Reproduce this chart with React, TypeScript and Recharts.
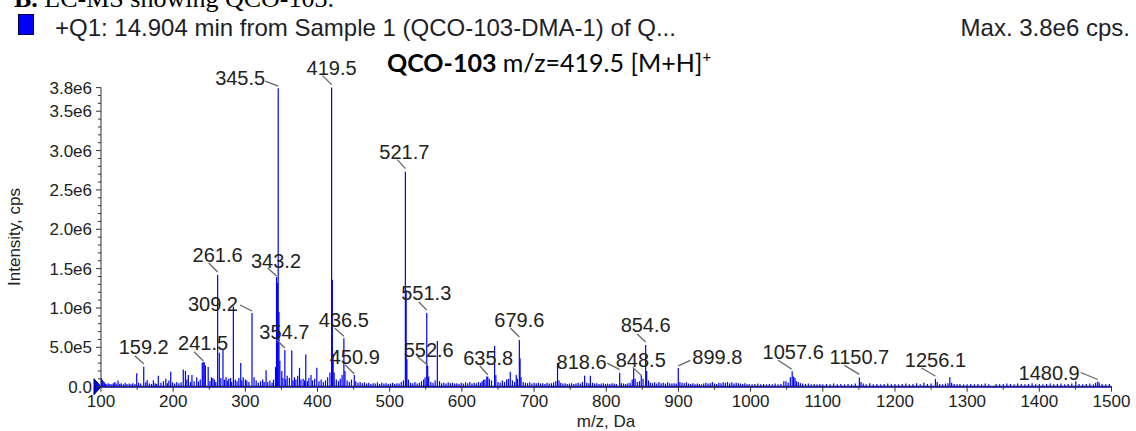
import React from 'react';
import { ComposedChart, Scatter, ErrorBar, XAxis, YAxis, ReferenceLine, ReferenceDot } from 'recharts';

const W = 1136;
const H = 431;
const SANS = '"Liberation Sans", Arial, sans-serif';

// intensities in kcps
const labelledPeaks: [number, number][] = [
  [159.2, 254], [241.5, 318], [261.6, 1419], [309.2, 936], [343.2, 1394], [345.5, 3792],
  [354.7, 466], [419.5, 3800], [436.5, 615], [450.9, 149], [521.7, 2732], [551.3, 936],
  [552.6, 263], [635.8, 127], [679.6, 593], [818.6, 178], [848.5, 144], [854.6, 530],
  [899.8, 239], [1057.6, 196], [1150.7, 118], [1256.1, 98], [1480.9, 66],
];

const strongPeaks: [number, number][] = [
  [149.5, 170], [179.4, 140], [196.6, 190], [214, 220], [217, 200], [221, 150], [226, 150],
  [232.6, 120], [240.3, 300], [243, 310], [244.6, 270], [248.5, 250], [255, 110], [263.9, 430],
  [269, 470], [273.2, 120], [277, 100], [283.4, 1020], [293.6, 300], [297, 120], [300, 90],
  [328.7, 210], [341.8, 250], [344.4, 1320], [346.6, 950], [347.8, 330], [350.5, 200], [358, 140],
  [364.3, 460], [368, 120], [375, 240], [380, 100], [383.7, 410], [388, 110], [391, 150],
  [399, 240], [414, 120], [417.2, 180], [420.5, 1360], [421.6, 420], [423, 180], [434, 150],
  [438, 200], [522.8, 1230], [523.8, 350], [549, 120], [554, 130], [566, 580], [630, 90],
  [634.5, 130], [645.3, 520], [647, 150], [667, 190], [675.3, 150], [680.6, 360], [732.5, 300],
  [770, 140], [778, 140], [838, 230], [840, 100], [856, 200], [1055, 120], [1059.5, 130],
  [1061.5, 110], [1276, 120], [1450.5, 70],
];

const noiseLow: [number, number][] = [
  [100.6, 110], [101.8, 85], [103, 70], [104.5, 55], [106, 40], [108, 30], [110, 45], [112.5, 35],
  [115, 30], [117, 45], [119, 60], [121, 40], [123.6, 80], [126, 35], [128, 45], [131, 30],
  [133.5, 50], [136, 35], [139, 40], [141.5, 30], [144, 45], [147, 35], [152, 50], [155, 40],
  [162, 55], [164, 85], [167, 40], [170, 35], [172.6, 80], [175, 45], [177, 35], [183, 50],
  [186.5, 70], [189.8, 100], [192, 45], [194, 80], [199, 55], [202, 40], [205, 60], [208, 45],
  [211, 55], [219, 90], [224, 60], [229, 70], [235, 65], [237.5, 90], [251, 70], [253, 120],
  [257, 90], [259, 60], [266, 110], [271, 90], [275, 80], [279.5, 110], [281, 60], [286, 90],
  [288.5, 70], [291, 110], [295, 80], [302, 80], [305, 60], [312, 120], [315, 80], [318, 50],
  [321, 70], [324, 90], [326, 60], [331, 60], [334, 80], [337, 50], [339, 90], [352, 110],
  [356, 90], [361, 110], [366, 80], [370, 90], [372.5, 140], [377, 90], [382, 80], [386, 70],
  [393, 80], [396, 100], [402, 70], [405, 90], [408, 60], [411, 80], [426, 90], [429, 70],
  [431.5, 100], [441, 80], [444, 60], [447, 90], [453, 70], [456, 50], [459, 60], [462, 45],
  [465, 55], [468, 40], [471, 50], [474, 35], [477, 45], [480, 40], [483, 55], [486, 35],
  [489, 50], [492, 40], [495, 45], [498, 35],
];

const noiseMid: [number, number][] = [
  [501, 40], [504, 50], [507, 35], [510, 45], [513, 40], [516, 60], [519, 80], [526, 90],
  [529, 50], [532, 45], [535, 60], [538, 40], [541, 50], [544, 70], [547, 90], [557, 60],
  [560, 50], [563, 80], [569, 70], [572, 45], [575, 50], [578, 40], [581, 55], [584, 45],
  [587, 50], [590, 40], [593, 45], [596, 35], [599, 50], [602, 40], [605, 55], [608, 45],
  [611, 60], [614, 40], [617, 50], [620, 45], [623, 60], [626, 50], [628, 70], [632, 90],
  [638, 100], [641, 80], [650, 60], [653, 50], [656, 80], [659, 60], [662, 90], [664.5, 100],
  [670, 80], [673, 60], [677, 100], [682, 120], [685, 60], [688, 50], [691, 45], [694, 55],
  [697, 40], [700, 50], [703, 45], [706, 50], [709, 40], [712, 45], [715, 35], [718, 50],
  [721, 40], [724, 45], [727, 55], [730, 70], [734.5, 80], [737, 50], [740, 40], [743, 45],
  [746, 35], [749, 40], [752, 45], [755, 35], [758, 40], [761, 50], [764, 40], [767, 60],
  [773, 50], [776, 45], [781, 50], [784, 40], [787, 45], [790, 35], [793, 40], [796, 45],
  [799, 35], [802, 40], [805, 35], [808, 45], [811, 40], [814, 35], [821, 45], [824, 40],
  [827, 35], [830, 45], [833, 50], [836, 90], [843, 60], [846, 70], [851, 100], [858.5, 80],
  [861, 50], [864, 45], [867, 55], [870, 40], [873, 60], [876, 45], [879, 50], [882, 40],
  [885, 55], [888, 45], [891, 40], [894, 45], [897, 40], [902, 60], [905, 50], [908, 45],
  [911, 55], [914, 40], [917, 35], [920, 45], [923, 30], [926, 40], [929, 35], [932, 30],
  [935, 40], [938, 50], [941, 40], [944, 45], [947, 60], [950, 40], [953, 35], [956, 50],
  [959, 45], [962, 55], [965, 50], [968, 60], [971, 45], [974, 55], [977, 40], [980, 50],
  [983, 45], [986, 40], [989, 35], [992, 45], [995, 30], [998, 35],
];

const noiseHigh: [number, number][] = [
  [1002, 30], [1006, 35], [1010, 40], [1014, 30], [1018, 35], [1022, 30], [1026, 35], [1030, 30],
  [1034, 40], [1038, 30], [1042, 35], [1046, 70], [1049, 70], [1052, 50], [1063.5, 70], [1066, 60],
  [1069, 45], [1072, 40], [1076, 35], [1080, 40], [1084, 30], [1088, 35], [1092, 30], [1096, 35],
  [1100, 30], [1105, 35], [1110, 30], [1115, 40], [1120, 30], [1125, 35], [1130, 30], [1135, 35],
  [1140, 30], [1145, 40], [1153, 60], [1156, 40], [1160, 30], [1165, 45], [1170, 30], [1175, 35],
  [1180, 30], [1185, 35], [1190, 40], [1195, 30], [1200, 35], [1205, 30], [1210, 35], [1215, 40],
  [1220, 30], [1225, 35], [1230, 45], [1235, 30], [1240, 50], [1245, 35], [1250, 40], [1258.5, 60],
  [1262, 35], [1266, 30], [1270, 40], [1273.5, 45], [1278.5, 50], [1282, 35], [1286, 30], [1290, 35],
  [1295, 30], [1300, 30], [1305, 35], [1310, 30], [1315, 35], [1320, 30], [1325, 40], [1330, 30],
  [1340, 35], [1345, 30], [1350, 35], [1355, 40], [1360, 35], [1365, 30], [1370, 40], [1375, 35],
  [1380, 30], [1385, 35], [1390, 45], [1395, 30], [1400, 35], [1405, 30], [1410, 35], [1415, 40],
  [1420, 30], [1425, 35], [1430, 40], [1435, 30], [1440, 35], [1445, 40], [1455, 35], [1460, 30],
  [1465, 35], [1470, 40], [1475, 30], [1478, 50], [1483, 50], [1487, 35], [1492, 30], [1497, 35],
];

const xTicks = [100, 200, 300, 400, 500, 600, 700, 800, 900, 1000, 1100, 1200, 1300, 1400, 1500];
const xMinorTicks = [150, 250, 350, 450, 550, 650, 750, 850, 950, 1050, 1150, 1250, 1350, 1450];
const yTicks = [0, 500000, 1000000, 1500000, 2000000, 2500000, 3000000, 3500000, 3800000];
const yTickLabels = ['0.0', '5.0e5', '1.0e6', '1.5e6', '2.0e6', '2.5e6', '3.0e6', '3.5e6', '3.8e6'];

// label placement relative to the peak top: text pos, connector start, connector end
type LabelPos = { tx: number; ty: number; anchor: 'start' | 'middle' | 'end'; lx: number; ly: number; ex: number; ey: number };
const labelLayout: Record<string, LabelPos> = {
  '159.2': { tx: 0, ty: -13, anchor: 'middle', lx: -9, ly: -11, ex: 0, ey: -3 },
  '241.5': { tx: 0, ty: -12, anchor: 'middle', lx: -9, ly: -10, ex: 0, ey: -1 },
  '261.6': { tx: 0, ty: -13, anchor: 'middle', lx: -9, ly: -12, ex: 0, ey: -3 },
  '309.2': { tx: -14, ty: -2, anchor: 'end', lx: -12, ly: -8, ex: 0, ey: -2 },
  '343.2': { tx: -0.5, ty: -9, anchor: 'middle', lx: -9, ly: -9, ex: 0, ey: -1 },
  '345.5': { tx: -13, ty: -3, anchor: 'end', lx: -13, ly: -7, ex: 0, ey: -2 },
  '354.7': { tx: -0.5, ty: -11, anchor: 'middle', lx: -8, ly: -10, ex: 0, ey: -2 },
  '419.5': { tx: 0, ty: -13, anchor: 'middle', lx: -9, ly: -12, ex: 0, ey: -3 },
  '436.5': { tx: 0, ty: -11, anchor: 'middle', lx: -9, ly: -10, ex: 0, ey: -2 },
  '450.9': { tx: 0.5, ty: -11, anchor: 'middle', lx: -9, ly: -10, ex: 0, ey: -1 },
  '521.7': { tx: -1, ty: -13, anchor: 'middle', lx: -8, ly: -12, ex: 0, ey: -3 },
  '551.3': { tx: -0.5, ty: -13, anchor: 'middle', lx: -8, ly: -11, ex: 0, ey: -3 },
  '552.6': { tx: 1, ty: -9, anchor: 'middle', lx: -10, ly: -9, ex: 0, ey: -1 },
  '635.8': { tx: 0.5, ty: -12, anchor: 'middle', lx: -8, ly: -11, ex: 0, ey: -2 },
  '679.6': { tx: 0, ty: -13, anchor: 'middle', lx: -9, ly: -12, ex: 0, ey: -3 },
  '818.6': { tx: -13, ty: -4, anchor: 'end', lx: -12.5, ly: -9.5, ex: 0, ey: -3 },
  '848.5': { tx: -0.5, ty: -8, anchor: 'middle', lx: -8.5, ly: -8, ex: 0, ey: 0 },
  '854.6': { tx: 0, ty: -13, anchor: 'middle', lx: -8.5, ly: -11, ex: 0, ey: -3 },
  '899.8': { tx: 14, ty: -3.5, anchor: 'start', lx: 12, ly: -7.5, ex: 0, ey: -2 },
  '1057.6': { tx: 1, ty: -12, anchor: 'middle', lx: -14, ly: -11, ex: -0.5, ey: -2 },
  '1150.7': { tx: 0, ty: -13, anchor: 'middle', lx: -15, ly: -12, ex: 0, ey: -3 },
  '1256.1': { tx: 0, ty: -12, anchor: 'middle', lx: -14, ly: -11, ex: 0, ey: -3 },
  '1480.9': { tx: -18, ty: -1.5, anchor: 'end', lx: -17, ly: -9, ex: 0, ey: -2 },
};

const toPoint = ([mz, k]: [number, number]) => ({ mz, intensity: k * 1000, err: [k * 1000, 0] });

const sticks = [...noiseLow, ...noiseMid, ...noiseHigh, ...strongPeaks, ...labelledPeaks].map(toPoint);
const labelData = labelledPeaks.map(p => ({ ...toPoint(p), text: p[0].toFixed(1) }));

const yMinorTicks: number[] = [];
for (let v = 0; v <= 3800000; v += 100000) yMinorTicks.push(v);

const XTick = (props: any) => {
  const { x, y, payload } = props;
  const i = xTicks.indexOf(payload.value);
  return (
    <g>
      <line x1={x} y1={y} x2={x} y2={y + (i >= 0 ? 5 : 3)} stroke="#333" strokeWidth={1} />
      {i >= 0 && (
        <text x={x} y={y + 20} textAnchor="middle" fontSize={17} fontFamily={SANS} fill="#222">
          {payload.value}
        </text>
      )}
    </g>
  );
};

const YTick = (props: any) => {
  const { x, y, payload } = props;
  const i = yTicks.indexOf(payload.value);
  return (
    <g>
      <line x1={x} y1={y} x2={x - (i >= 0 ? 5 : 3)} y2={y} stroke="#333" strokeWidth={1} />
      {i >= 0 && (
        <text x={x - 9} y={y + 6} textAnchor="end" fontSize={17} fontFamily={SANS} fill="#222">
          {yTickLabels[i]}
        </text>
      )}
    </g>
  );
};

const PeakLabel = (props: any) => {
  const { cx, cy, payload } = props;
  const l = labelLayout[payload.text];
  if (!l) return <g />;
  return (
    <g>
      <line x1={cx + l.lx} y1={cy + l.ly} x2={cx + l.ex} y2={cy + l.ey} stroke="#666" strokeWidth={1.3} />
      <text x={cx + l.tx} y={cy + l.ty} textAnchor={l.anchor} fontSize={20} fontFamily={SANS} fill="#222">
        {payload.text}
      </text>
    </g>
  );
};

const Marker = (props: any) => {
  const { cx, cy } = props;
  return <polygon points={`${cx - 7},${cy - 8} ${cx},${cy} ${cx - 7},${cy + 8}`} fill="#0000ee" stroke="#000066" strokeWidth={1} />;
};

export default function App() {
  return (
    <div style={{ position: 'absolute', left: 0, top: 0, width: W, height: H, overflow: 'hidden', background: '#fff' }}>
      <ComposedChart width={W} height={H} data={sticks} margin={{ top: 87.6, right: 24.5, bottom: 14.3, left: 41 }}>
        <XAxis
          dataKey="mz"
          type="number"
          domain={[100, 1500]}
          ticks={[...xTicks, ...xMinorTicks].sort((a, b) => a - b)}
          interval={0}
          tickSize={0}
          tickMargin={0}
          tick={<XTick />}
          axisLine={{ stroke: '#333' }}
        />
        <YAxis
          dataKey="intensity"
          type="number"
          domain={[0, 3800000]}
          ticks={yMinorTicks}
          interval={0}
          tickSize={0}
          tickMargin={0}
          tick={<YTick />}
          axisLine={{ stroke: '#333' }}
        />
        <Scatter data={sticks} dataKey="intensity" shape={() => <g />} isAnimationActive={false}>
          <ErrorBar dataKey="err" direction="y" width={0} stroke="#0000ff" strokeWidth={1.2} isAnimationActive={false} />
        </Scatter>
        <ReferenceLine y={0} stroke="#0000ff" strokeWidth={2} />
        <ReferenceDot x={100} y={0} shape={<Marker />} />
        <Scatter data={labelData} dataKey="intensity" shape={<PeakLabel />} isAnimationActive={false} />
      </ComposedChart>
      <svg width={W} height={H} style={{ position: 'absolute', left: 0, top: 0, pointerEvents: 'none' }}>
        <text x={14} y={7} fontSize={26} fontFamily='"Liberation Serif", "Times New Roman", serif' fill="#000">
          <tspan fontWeight={700}>B.</tspan> LC-MS showing QCO-103.
        </text>
        <rect x={18.5} y={14.5} width={15} height={20} fill="#0000ff" stroke="#000040" strokeWidth={1} />
        <text x={55} y={36} fontSize={24} fontFamily={SANS} fill="#1e1e28">
          +Q1: 14.904 min from Sample 1 (QCO-103-DMA-1) of Q...
        </text>
        <text x={1130} y={36} fontSize={24} fontFamily={SANS} fill="#1e1e28" textAnchor="end">
          Max. 3.8e6 cps.
        </text>
        <text x={387} y={72} fontSize={25} fontFamily="Lato, sans-serif" fill="#000">
          <tspan fontWeight={700}>QCO-103</tspan>
          <tspan> m/z=419.5 [M+H]</tspan>
          <tspan fontSize={15} dy={-10}>+</tspan>
        </text>
        <text x={606} y={427} fontSize={17} fontFamily={SANS} fill="#222" textAnchor="middle">
          m/z, Da
        </text>
        <text transform="translate(20,237) rotate(-90)" fontSize={17} fontFamily={SANS} fill="#222" textAnchor="middle">
          Intensity, cps
        </text>
      </svg>
    </div>
  );
}
